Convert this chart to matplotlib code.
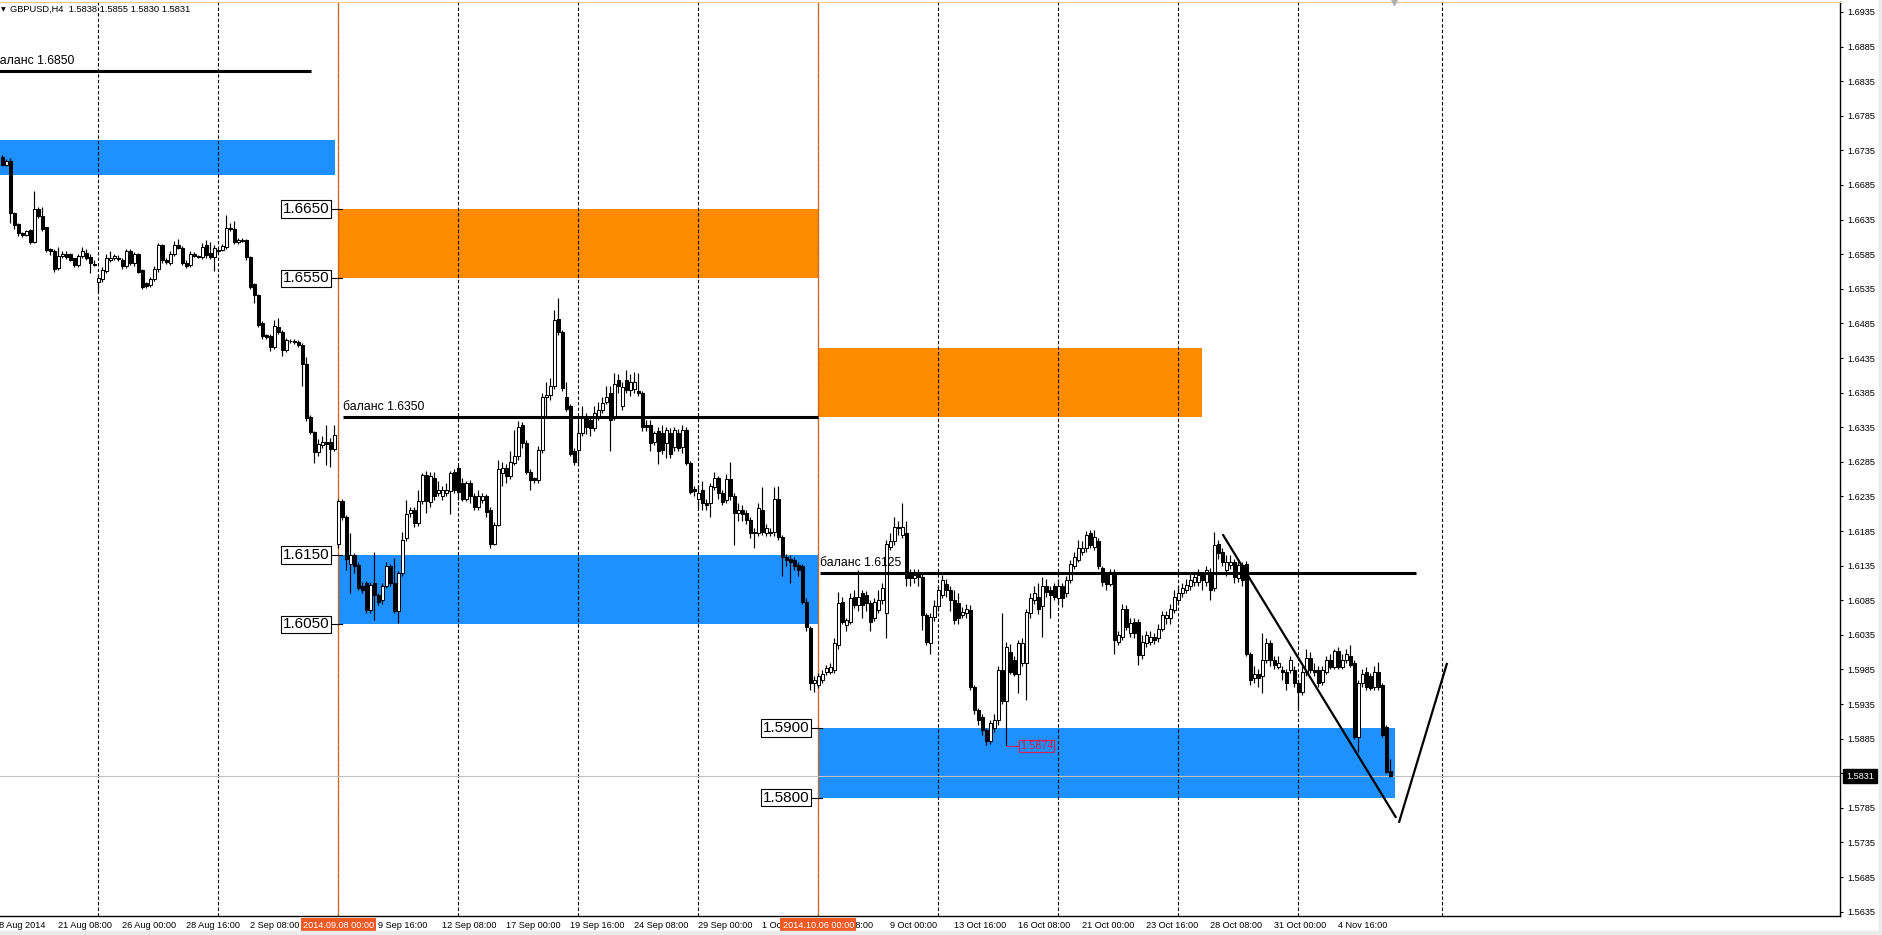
import matplotlib.pyplot as plt
import matplotlib.transforms as mtransforms
from matplotlib.patches import Rectangle

plt.rcParams['font.family'] = ['Liberation Sans', 'DejaVu Sans']

symbol = 'GBPUSD,H4'

# H4 bars, bar 0 = 19 Aug 2014 00:00
opens = [
    1.6726, 1.6714, 1.6719, 1.6645, 1.6628, 1.6616, 1.6613, 1.6620, 1.6603, 1.6651, 1.6640, 1.6624,
    1.6593, 1.6590, 1.6565, 1.6582, 1.6585, 1.6585, 1.6579, 1.6569, 1.6582, 1.6587, 1.6581, 1.6571,
    1.6545, 1.6549, 1.6561, 1.6577, 1.6579, 1.6580, 1.6577, 1.6568, 1.6590, 1.6572, 1.6585, 1.6562,
    1.6543, 1.6541, 1.6549, 1.6563, 1.6598, 1.6576, 1.6572, 1.6585, 1.6598, 1.6594, 1.6573, 1.6569,
    1.6585, 1.6582, 1.6581, 1.6598, 1.6587, 1.6581, 1.6591, 1.6591, 1.6595, 1.6621, 1.6621, 1.6602,
    1.6604, 1.6605, 1.6581, 1.6542, 1.6526, 1.6486, 1.6468, 1.6467, 1.6451, 1.6480, 1.6473, 1.6446,
    1.6459, 1.6460, 1.6458, 1.6454, 1.6427, 1.6350, 1.6328, 1.6299, 1.6309, 1.6314, 1.6314, 1.6304,
    1.6167, 1.6228, 1.6206, 1.6138, 1.6150, 1.6136, 1.6105, 1.6110, 1.6071, 1.6110, 1.6093, 1.6085,
    1.6105, 1.6134, 1.6110, 1.6069, 1.6124, 1.6175, 1.6211, 1.6216, 1.6196, 1.6228, 1.6266, 1.6227,
    1.6262, 1.6240, 1.6235, 1.6240, 1.6243, 1.6270, 1.6276, 1.6254, 1.6232, 1.6254, 1.6236, 1.6220,
    1.6230, 1.6235, 1.6216, 1.6167, 1.6194, 1.6269, 1.6276, 1.6264, 1.6283, 1.6293, 1.6338, 1.6312,
    1.6271, 1.6261, 1.6259, 1.6302, 1.6379, 1.6381, 1.6394, 1.6492, 1.6473, 1.6379, 1.6365, 1.6300,
    1.6302, 1.6326, 1.6350, 1.6346, 1.6334, 1.6350, 1.6360, 1.6372, 1.6384, 1.6350, 1.6403, 1.6365,
    1.6403, 1.6389, 1.6390, 1.6388, 1.6384, 1.6338, 1.6338, 1.6314, 1.6330, 1.6326, 1.6312, 1.6326,
    1.6307, 1.6326, 1.6307, 1.6331, 1.6283, 1.6246, 1.6232, 1.6244, 1.6225, 1.6225, 1.6249, 1.6261,
    1.6240, 1.6230, 1.6260, 1.6235, 1.6211, 1.6216, 1.6211, 1.6201, 1.6184, 1.6182, 1.6216, 1.6182,
    1.6184, 1.6184, 1.6232, 1.6177, 1.6148, 1.6145, 1.6143, 1.6136, 1.6134, 1.6083, 1.6045, 1.5965,
    1.5962, 1.5970, 1.5982, 1.5982, 1.5984, 1.6020, 1.6083, 1.6049, 1.6054, 1.6090, 1.6078, 1.6095,
    1.6093, 1.6081, 1.6059, 1.6071, 1.6085, 1.6066, 1.6162, 1.6170, 1.6191, 1.6179, 1.6182, 1.6121,
    1.6117, 1.6121, 1.6119, 1.6064, 1.6023, 1.6061, 1.6076, 1.6093, 1.6109, 1.6100, 1.6085, 1.6081,
    1.6064, 1.6066, 1.6071, 1.5960, 1.5926, 1.5917, 1.5897, 1.5881, 1.5900, 1.5912, 1.5984, 1.5940,
    1.6010, 1.5999, 1.5979, 1.5994, 1.5994, 1.6066, 1.6085, 1.6090, 1.6076, 1.6105, 1.6100, 1.6105,
    1.6088, 1.6105, 1.6095, 1.6114, 1.6134, 1.6143, 1.6155, 1.6160, 1.6182, 1.6162, 1.6170, 1.6131,
    1.6121, 1.6109, 1.6126, 1.6025, 1.6032, 1.6073, 1.6037, 1.6054, 1.6054, 1.6006, 1.6023, 1.6025,
    1.6032, 1.6030, 1.6044, 1.6059, 1.6059, 1.6071, 1.6085, 1.6095, 1.6100, 1.6105, 1.6112, 1.6112,
    1.6121, 1.6112, 1.6126, 1.6102, 1.6167, 1.6155, 1.6129, 1.6136, 1.6141, 1.6117, 1.6136, 1.6138,
    1.6008, 1.5972, 1.5979, 1.5975, 1.5999, 1.6023, 1.5999, 1.5989, 1.5984, 1.5982, 1.5984, 1.5984,
    1.5965, 1.5953, 1.5982, 1.6001, 1.5984, 1.5984, 1.5967, 1.5982, 1.5999, 1.5989, 1.6011, 1.5989,
    1.5999, 1.6004, 1.5994, 1.5888, 1.5965, 1.5982, 1.5975, 1.5960, 1.5982, 1.5963, 1.5902, 1.5838,
]
highs = [
    1.6728, 1.6722, 1.6724, 1.6646, 1.6630, 1.6617, 1.6620, 1.6621, 1.6676, 1.6653, 1.6653, 1.6625,
    1.6594, 1.6592, 1.6596, 1.6590, 1.6590, 1.6587, 1.6580, 1.6585, 1.6595, 1.6593, 1.6585, 1.6576,
    1.6555, 1.6566, 1.6585, 1.6590, 1.6586, 1.6584, 1.6580, 1.6593, 1.6592, 1.6588, 1.6587, 1.6563,
    1.6545, 1.6552, 1.6568, 1.6601, 1.6600, 1.6580, 1.6589, 1.6604, 1.6607, 1.6597, 1.6576, 1.6590,
    1.6588, 1.6584, 1.6601, 1.6605, 1.6602, 1.6598, 1.6594, 1.6600, 1.6642, 1.6630, 1.6633, 1.6608,
    1.6609, 1.6607, 1.6583, 1.6544, 1.6527, 1.6488, 1.6470, 1.6469, 1.6490, 1.6493, 1.6476, 1.6464,
    1.6463, 1.6463, 1.6461, 1.6456, 1.6436, 1.6352, 1.6330, 1.6318, 1.6323, 1.6338, 1.6320, 1.6338,
    1.6232, 1.6232, 1.6208, 1.6182, 1.6153, 1.6140, 1.6112, 1.6113, 1.6112, 1.6155, 1.6096, 1.6110,
    1.6141, 1.6138, 1.6146, 1.6127, 1.6184, 1.6230, 1.6220, 1.6220, 1.6244, 1.6269, 1.6272, 1.6270,
    1.6270, 1.6258, 1.6250, 1.6254, 1.6272, 1.6275, 1.6280, 1.6262, 1.6258, 1.6259, 1.6240, 1.6245,
    1.6240, 1.6238, 1.6220, 1.6198, 1.6288, 1.6285, 1.6282, 1.6300, 1.6331, 1.6344, 1.6343, 1.6316,
    1.6275, 1.6263, 1.6308, 1.6385, 1.6400, 1.6406, 1.6504, 1.6521, 1.6476, 1.6401, 1.6368, 1.6305,
    1.6346, 1.6365, 1.6356, 1.6350, 1.6366, 1.6372, 1.6378, 1.6395, 1.6395, 1.6413, 1.6412, 1.6400,
    1.6418, 1.6412, 1.6415, 1.6413, 1.6387, 1.6345, 1.6346, 1.6330, 1.6336, 1.6338, 1.6336, 1.6334,
    1.6336, 1.6332, 1.6338, 1.6336, 1.6286, 1.6250, 1.6252, 1.6258, 1.6232, 1.6255, 1.6270, 1.6265,
    1.6245, 1.6267, 1.6285, 1.6240, 1.6225, 1.6222, 1.6215, 1.6205, 1.6190, 1.6225, 1.6248, 1.6195,
    1.6190, 1.6248, 1.6250, 1.6180, 1.6152, 1.6150, 1.6148, 1.6140, 1.6138, 1.6088, 1.6048, 1.5975,
    1.5980, 1.5984, 1.5992, 1.5995, 1.6030, 1.6097, 1.6090, 1.6060, 1.6095, 1.6100, 1.6129, 1.6100,
    1.6098, 1.6085, 1.6088, 1.6100, 1.6110, 1.6172, 1.6182, 1.6205, 1.6200, 1.6225, 1.6200, 1.6130,
    1.6130, 1.6130, 1.6124, 1.6066, 1.6066, 1.6085, 1.6105, 1.6121, 1.6115, 1.6105, 1.6100, 1.6095,
    1.6075, 1.6080, 1.6078, 1.5962, 1.5930, 1.5920, 1.5900, 1.5912, 1.5920, 1.5990, 1.6066, 1.6025,
    1.6022, 1.6005, 1.6028, 1.6030, 1.6073, 1.6095, 1.6105, 1.6110, 1.6118, 1.6115, 1.6105, 1.6110,
    1.6115, 1.6110, 1.6120, 1.6143, 1.6155, 1.6172, 1.6170, 1.6185, 1.6186, 1.6186, 1.6175, 1.6135,
    1.6125, 1.6130, 1.6130, 1.6040, 1.6080, 1.6078, 1.6060, 1.6060, 1.6058, 1.6035, 1.6040, 1.6040,
    1.6038, 1.6050, 1.6070, 1.6070, 1.6080, 1.6100, 1.6105, 1.6110, 1.6115, 1.6125, 1.6125, 1.6130,
    1.6126, 1.6135, 1.6132, 1.6184, 1.6172, 1.6160, 1.6150, 1.6150, 1.6145, 1.6142, 1.6140, 1.6142,
    1.6010, 1.5990, 1.5985, 1.6037, 1.6030, 1.6028, 1.6005, 1.6005, 1.5990, 1.5986, 1.6005, 1.5990,
    1.5970, 1.5990, 1.6015, 1.6010, 1.5995, 1.5990, 1.5990, 1.6005, 1.6008, 1.6015, 1.6018, 1.6008,
    1.6015, 1.6020, 1.5998, 1.5970, 1.5985, 1.5988, 1.5980, 1.5990, 1.5996, 1.5966, 1.5905, 1.5855,
]
lows = [
    1.6712, 1.6713, 1.6630, 1.6622, 1.6612, 1.6610, 1.6611, 1.6600, 1.6601, 1.6638, 1.6618, 1.6588,
    1.6584, 1.6560, 1.6562, 1.6580, 1.6578, 1.6575, 1.6566, 1.6567, 1.6580, 1.6576, 1.6558, 1.6568,
    1.6531, 1.6545, 1.6558, 1.6574, 1.6576, 1.6575, 1.6564, 1.6565, 1.6569, 1.6568, 1.6558, 1.6535,
    1.6536, 1.6538, 1.6547, 1.6560, 1.6572, 1.6571, 1.6570, 1.6583, 1.6592, 1.6570, 1.6565, 1.6567,
    1.6581, 1.6580, 1.6578, 1.6580, 1.6578, 1.6561, 1.6587, 1.6590, 1.6593, 1.6619, 1.6600, 1.6600,
    1.6602, 1.6576, 1.6535, 1.6514, 1.6480, 1.6463, 1.6462, 1.6445, 1.6448, 1.6470, 1.6438, 1.6443,
    1.6456, 1.6455, 1.6451, 1.6394, 1.6344, 1.6325, 1.6283, 1.6293, 1.6305, 1.6281, 1.6278, 1.6300,
    1.6160, 1.6201, 1.6129, 1.6095, 1.6124, 1.6100, 1.6095, 1.6066, 1.6066, 1.6057, 1.6078, 1.6080,
    1.6102, 1.6105, 1.6066, 1.6052, 1.6120, 1.6170, 1.6206, 1.6191, 1.6192, 1.6224, 1.6211, 1.6220,
    1.6230, 1.6236, 1.6230, 1.6236, 1.6210, 1.6240, 1.6230, 1.6228, 1.6228, 1.6225, 1.6215, 1.6216,
    1.6226, 1.6205, 1.6160, 1.6165, 1.6192, 1.6250, 1.6255, 1.6260, 1.6280, 1.6288, 1.6305, 1.6268,
    1.6244, 1.6255, 1.6255, 1.6298, 1.6350, 1.6375, 1.6390, 1.6468, 1.6388, 1.6358, 1.6293, 1.6280,
    1.6280, 1.6322, 1.6325, 1.6322, 1.6330, 1.6345, 1.6355, 1.6368, 1.6300, 1.6346, 1.6385, 1.6360,
    1.6385, 1.6380, 1.6385, 1.6380, 1.6330, 1.6330, 1.6300, 1.6310, 1.6282, 1.6296, 1.6290, 1.6290,
    1.6300, 1.6300, 1.6298, 1.6280, 1.6238, 1.6236, 1.6218, 1.6215, 1.6215, 1.6205, 1.6245, 1.6232,
    1.6222, 1.6225, 1.6230, 1.6165, 1.6200, 1.6200, 1.6195, 1.6175, 1.6160, 1.6178, 1.6180, 1.6178,
    1.6178, 1.6178, 1.6172, 1.6120, 1.6135, 1.6110, 1.6128, 1.6120, 1.6080, 1.6040, 1.5955, 1.5952,
    1.5958, 1.5965, 1.5977, 1.5978, 1.5980, 1.6015, 1.6050, 1.6040, 1.6050, 1.6074, 1.6070, 1.6060,
    1.6070, 1.6040, 1.6055, 1.6066, 1.6080, 1.6030, 1.6158, 1.6165, 1.6180, 1.6175, 1.6105, 1.6105,
    1.6110, 1.6105, 1.6042, 1.6020, 1.6008, 1.6055, 1.6070, 1.6088, 1.6090, 1.6070, 1.6050, 1.6050,
    1.6060, 1.6060, 1.5955, 1.5920, 1.5905, 1.5890, 1.5876, 1.5878, 1.5895, 1.5905, 1.5935, 1.5874,
    1.5978, 1.5975, 1.5951, 1.5990, 1.5941, 1.6060, 1.6080, 1.6065, 1.6032, 1.6090, 1.6060, 1.6085,
    1.6080, 1.6075, 1.6090, 1.6110, 1.6130, 1.6140, 1.6150, 1.6155, 1.6160, 1.6158, 1.6130, 1.6105,
    1.6100, 1.6105, 1.6008, 1.6020, 1.6028, 1.6042, 1.6032, 1.6030, 1.5992, 1.6000, 1.6018, 1.6020,
    1.6022, 1.6025, 1.6040, 1.6050, 1.6050, 1.6066, 1.6080, 1.6090, 1.6095, 1.6100, 1.6105, 1.6105,
    1.6100, 1.6105, 1.6085, 1.6098, 1.6145, 1.6135, 1.6120, 1.6130, 1.6110, 1.6112, 1.6105, 1.6005,
    1.5962, 1.5965, 1.5960, 1.5951, 1.5995, 1.5990, 1.5985, 1.5985, 1.5970, 1.5955, 1.5980, 1.5960,
    1.5926, 1.5948, 1.5975, 1.5980, 1.5975, 1.5960, 1.5962, 1.5978, 1.5985, 1.5985, 1.5985, 1.5985,
    1.5995, 1.5988, 1.5885, 1.5866, 1.5960, 1.5955, 1.5955, 1.5955, 1.5955, 1.5887, 1.5835, 1.5830,
]
closes = [
    1.6714, 1.6719, 1.6645, 1.6627, 1.6616, 1.6613, 1.6618, 1.6603, 1.6650, 1.6640, 1.6622, 1.6591,
    1.6590, 1.6564, 1.6582, 1.6585, 1.6581, 1.6577, 1.6570, 1.6582, 1.6590, 1.6579, 1.6572, 1.6570,
    1.6551, 1.6562, 1.6579, 1.6580, 1.6582, 1.6578, 1.6568, 1.6590, 1.6572, 1.6585, 1.6560, 1.6537,
    1.6539, 1.6549, 1.6563, 1.6598, 1.6576, 1.6574, 1.6586, 1.6598, 1.6594, 1.6573, 1.6568, 1.6586,
    1.6583, 1.6581, 1.6596, 1.6584, 1.6581, 1.6594, 1.6589, 1.6597, 1.6623, 1.6623, 1.6603, 1.6605,
    1.6605, 1.6581, 1.6538, 1.6526, 1.6483, 1.6467, 1.6465, 1.6451, 1.6481, 1.6473, 1.6446, 1.6461,
    1.6460, 1.6458, 1.6454, 1.6427, 1.6349, 1.6328, 1.6299, 1.6311, 1.6314, 1.6311, 1.6304, 1.6324,
    1.6228, 1.6206, 1.6145, 1.6150, 1.6134, 1.6103, 1.6100, 1.6071, 1.6107, 1.6093, 1.6083, 1.6105,
    1.6134, 1.6110, 1.6069, 1.6124, 1.6172, 1.6209, 1.6216, 1.6196, 1.6228, 1.6266, 1.6228, 1.6264,
    1.6235, 1.6245, 1.6244, 1.6244, 1.6269, 1.6244, 1.6242, 1.6232, 1.6254, 1.6236, 1.6220, 1.6235,
    1.6236, 1.6213, 1.6167, 1.6194, 1.6274, 1.6276, 1.6264, 1.6285, 1.6293, 1.6336, 1.6312, 1.6271,
    1.6259, 1.6259, 1.6302, 1.6379, 1.6381, 1.6394, 1.6490, 1.6473, 1.6391, 1.6362, 1.6297, 1.6285,
    1.6326, 1.6350, 1.6336, 1.6334, 1.6355, 1.6360, 1.6370, 1.6379, 1.6346, 1.6398, 1.6394, 1.6393,
    1.6389, 1.6400, 1.6400, 1.6384, 1.6336, 1.6336, 1.6312, 1.6326, 1.6300, 1.6302, 1.6331, 1.6297,
    1.6331, 1.6305, 1.6331, 1.6283, 1.6242, 1.6243, 1.6240, 1.6225, 1.6223, 1.6250, 1.6261, 1.6240,
    1.6227, 1.6260, 1.6235, 1.6211, 1.6216, 1.6209, 1.6201, 1.6182, 1.6182, 1.6218, 1.6184, 1.6190,
    1.6182, 1.6232, 1.6177, 1.6148, 1.6143, 1.6141, 1.6134, 1.6129, 1.6083, 1.6047, 1.5965, 1.5970,
    1.5975, 1.5979, 1.5987, 1.5989, 1.6023, 1.6081, 1.6054, 1.6056, 1.6088, 1.6078, 1.6090, 1.6078,
    1.6081, 1.6054, 1.6083, 1.6085, 1.6102, 1.6167, 1.6170, 1.6191, 1.6189, 1.6191, 1.6117, 1.6117,
    1.6121, 1.6119, 1.6064, 1.6025, 1.6061, 1.6076, 1.6100, 1.6114, 1.6100, 1.6085, 1.6056, 1.6059,
    1.6068, 1.6073, 1.5960, 1.5926, 1.5912, 1.5897, 1.5881, 1.5907, 1.5912, 1.5984, 1.5940, 1.6018,
    1.5982, 1.5979, 1.6023, 1.6023, 1.6068, 1.6088, 1.6095, 1.6073, 1.6105, 1.6097, 1.6093, 1.6090,
    1.6105, 1.6088, 1.6114, 1.6138, 1.6148, 1.6160, 1.6160, 1.6179, 1.6165, 1.6177, 1.6134, 1.6112,
    1.6109, 1.6126, 1.6028, 1.6035, 1.6073, 1.6047, 1.6052, 1.6037, 1.6006, 1.6025, 1.6035, 1.6032,
    1.6028, 1.6044, 1.6064, 1.6064, 1.6073, 1.6090, 1.6095, 1.6102, 1.6107, 1.6114, 1.6119, 1.6121,
    1.6114, 1.6129, 1.6100, 1.6165, 1.6153, 1.6141, 1.6141, 1.6141, 1.6119, 1.6136, 1.6114, 1.6008,
    1.5970, 1.5979, 1.5972, 1.5999, 1.6023, 1.5999, 1.5992, 1.5994, 1.5982, 1.5965, 1.5999, 1.5965,
    1.5953, 1.5982, 1.6001, 1.5984, 1.5982, 1.5965, 1.5984, 1.5999, 1.5989, 1.6011, 1.5989, 1.5999,
    1.6008, 1.5992, 1.5888, 1.5965, 1.5979, 1.5960, 1.5958, 1.5982, 1.5960, 1.5890, 1.5837, 1.5831,
]

# week separators (Monday 00:00) and the two period markers
week_starts = [24, 54, 84, 114, 144, 174, 204, 234, 264, 294, 324, 360]
period_bars = [84, 204]
period_labels = ['2014.09.08 00:00', '2014.10.06 00:00']

# time scale labels (the one under the first period marker is fully hidden, so left out)
time_bars = [-2, 14, 30, 46, 62, 94, 110, 126, 142, 158, 174, 190, 206, 222,
             238, 254, 270, 286, 302, 318, 334]
time_labels = ['18 Aug 2014', '21 Aug 08:00', '26 Aug 00:00', '28 Aug 16:00', '2 Sep 08:00',
               '9 Sep 16:00', '12 Sep 08:00', '17 Sep 00:00', '19 Sep 16:00',
               '24 Sep 08:00', '29 Sep 00:00', '1 Oct 16:00', '6 Oct 08:00', '9 Oct 00:00',
               '13 Oct 16:00', '16 Oct 08:00', '21 Oct 00:00', '23 Oct 16:00', '28 Oct 08:00',
               '31 Oct 00:00', '4 Nov 16:00']

price_ticks = [round(1.5635 + 0.005 * i, 4) for i in range(27)]

# supply / demand zones
zone_x0 = [-2, 84, 84, 204, 204]
zone_x1 = [83.1, 204, 204, 299.8, 348.1]
zone_lo = [1.6700, 1.6550, 1.6050, 1.6350, 1.5800]
zone_hi = [1.6750, 1.6650, 1.6150, 1.6450, 1.5900]
zone_colors = ['#1E90FF', '#FF8C00', '#1E90FF', '#FF8C00', '#1E90FF']
zone_tagged = [False, True, True, False, True]

# "balance" levels
balance_levels = [1.6850, 1.6350, 1.6125]
balance_x0 = [-2.3, 85.1, 204.3]
balance_x1 = [77.1, 204, 353.4]

trend_down_x = [305.2, 348.3]
trend_down_y = [1.6179, 1.5772]
trend_up_x = [349.2, 361.1]
trend_up_y = [1.5765, 1.5993]

marked_low_bar = 251

fig = plt.figure(figsize=(18.82, 9.35), dpi=100)
ax = fig.add_axes([0, 19 / 935, 1840 / 1882, 914 / 935])
ax.set_xlim(-0.6, 459.4)
ax.set_ylim(1.56288, 1.69494)
ax.set_facecolor('white')

for x0, x1, lo, hi, col in zip(zone_x0, zone_x1, zone_lo, zone_hi, zone_colors):
    ax.add_patch(Rectangle((x0, lo), x1 - x0, hi - lo, facecolor=col, edgecolor='none', zorder=1))

for b in week_starts:
    ax.axvline(b, color='black', linewidth=0.8, linestyle=(0, (3, 2)), zorder=2)

ax.axhline(closes[-1], color='#C0C0C0', linewidth=0.8, zorder=2.5)

# candles
bars = list(range(len(closes)))
ax.vlines(bars, lows, highs, color='black', linewidth=0.85, zorder=3)
body_low = [min(o, c) for o, c in zip(opens, closes)]
body_h = [abs(c - o) for o, c in zip(opens, closes)]
body_col = ['white' if c > o else 'black' for o, c in zip(opens, closes)]
ax.bar(bars, body_h, width=0.66, bottom=body_low, color=body_col,
       edgecolor='black', linewidth=0.75, zorder=4)

# zone price tags
for x0, lo, hi, tagged in zip(zone_x0, zone_lo, zone_hi, zone_tagged):
    if not tagged:
        continue
    for p in (hi, lo):
        ax.plot([x0 - 1.8, x0 + 0.8], [p, p], color='black', linewidth=0.8, zorder=6)
        ax.annotate(f'{p:.4f}', (x0, p), xytext=(-9, 0), textcoords='offset pixels',
                    ha='right', va='center', fontsize=11, zorder=7,
                    bbox=dict(boxstyle='square,pad=0.12', fc='white', ec='black', lw=0.8))

for lvl, x0, x1 in zip(balance_levels, balance_x0, balance_x1):
    ax.plot([x0, x1], [lvl, lvl], color='black', linewidth=2.2, solid_capstyle='butt', zorder=5)
    ax.annotate(f'баланс {lvl:.4f}', (x0, lvl), xytext=(0, 4), textcoords='offset pixels',
                ha='left', va='bottom', fontsize=8.8, zorder=5, annotation_clip=False)

ax.plot(trend_down_x, trend_down_y, color='black', linewidth=1.6, zorder=6)
ax.plot(trend_up_x, trend_up_y, color='black', linewidth=1.6, zorder=6)

p = lows[marked_low_bar]
ax.plot([marked_low_bar, marked_low_bar + 2.9], [p, p], color='#C8285A', linewidth=0.8, zorder=6)
ax.annotate(f'{p:.4f}', (marked_low_bar + 2.9, p), xytext=(2, 0), textcoords='offset pixels',
            ha='left', va='center', fontsize=7.8, color='#C02050', zorder=7,
            bbox=dict(boxstyle='square,pad=0.1', fc='none', ec='#C8285A', lw=0.9))

# axes look
ax.yaxis.tick_right()
ax.set_yticks(price_ticks)
ax.set_yticklabels([f'{t:.4f}' for t in price_ticks])
ax.tick_params(axis='y', direction='out', length=2.5, width=0.8, pad=3, labelsize=6.6, colors='black')
ax.set_xticks([])
ax.spines['left'].set_visible(False)
ax.spines['top'].set_color('#F0C890')
ax.spines['right'].set_linewidth(1)
ax.spines['bottom'].set_linewidth(1)

xt = ax.get_xaxis_transform()
ylab = -9 / 914
for b, lab in zip(time_bars, time_labels):
    ax.text(b, ylab, lab, transform=xt, ha='left', va='center', fontsize=6.6, clip_on=False)
for b, lab in zip(period_bars, period_labels):
    ax.axvline(b, color='#D2691E', linewidth=0.9, zorder=2.2)
    ax.text(b, ylab, lab, transform=xt, ha='center', va='center', fontsize=6.6, color='white',
            zorder=12, clip_on=False,
            bbox=dict(boxstyle='square,pad=0.25', fc='#EE5A24', ec='none'))

yt = mtransforms.blended_transform_factory(ax.transAxes, ax.transData)
ax.annotate(f'{closes[-1]:.4f}', (1.0, closes[-1]), xycoords=yt, xytext=(6, 0),
            textcoords='offset pixels', ha='left', va='center', fontsize=6.6, color='white',
            annotation_clip=False, zorder=12,
            bbox=dict(boxstyle='square,pad=0.3', fc='black', ec='black'))

ax.plot([len(closes) - 0.2], [1.0], transform=mtransforms.blended_transform_factory(ax.transData, ax.transAxes),
        marker='v', markersize=5, color='#B0B0B0', clip_on=False, zorder=12)

fig.text(1 / 1882, 1 - 9.5 / 935, '▼', fontsize=4.5, va='center', family=['DejaVu Sans'])
fig.text(10 / 1882, 1 - 9.5 / 935,
         f'{symbol}  {opens[-1]:.4f} {highs[-1]:.4f} {lows[-1]:.4f} {closes[-1]:.4f}',
         fontsize=6.7, va='center')

fig.add_artist(Rectangle((0, 0), 1, 4 / 935, transform=fig.transFigure, color='#EAEAEA'))
fig.add_artist(Rectangle((1879 / 1882, 0), 3 / 1882, 1, transform=fig.transFigure, color='#EAEAEA'))

fig.savefig('out.png', dpi=100)
